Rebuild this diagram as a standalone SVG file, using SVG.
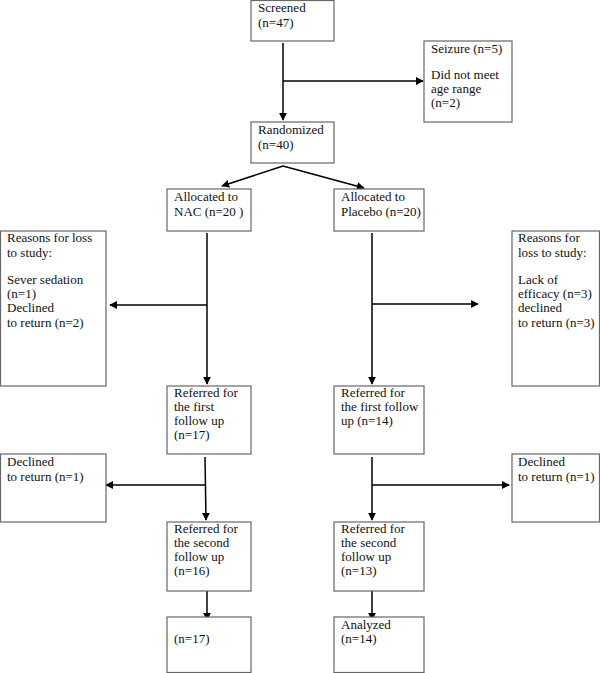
<svg xmlns="http://www.w3.org/2000/svg" width="600" height="673" viewBox="0 0 600 673">
<defs>
<style>
.box{fill:#fff;stroke:#666;stroke-width:1.2}
text{font-family:'Liberation Serif','Times New Roman','DejaVu Serif',serif;font-size:13px;fill:#111}
.c{fill:none;stroke:#000;stroke-width:1.5}
</style>
<marker id="ah" viewBox="0 0 10 10" refX="9" refY="5" markerWidth="8" markerHeight="8" markerUnits="userSpaceOnUse" orient="auto">
<path d="M0,0 L10,5 L0,10 Z" fill="#000"/>
</marker>
</defs>
<rect width="600" height="673" fill="#fff"/>
<g id="connectors">
<path class="c" d="M283,43 L283,120" marker-end="url(#ah)"/>
<path class="c" d="M283,81 L423,81" marker-end="url(#ah)"/>
<path class="c" d="M283,166 L222,186" marker-end="url(#ah)"/>
<path class="c" d="M283,166 L364,188" marker-end="url(#ah)"/>
<path class="c" d="M207,233 L207,384" marker-end="url(#ah)"/>
<path class="c" d="M207,305 L110,305" marker-end="url(#ah)"/>
<path class="c" d="M372,233 L372,384" marker-end="url(#ah)"/>
<path class="c" d="M372,304 L478,304" marker-end="url(#ah)"/>
<path class="c" d="M205,457 L206,520" marker-end="url(#ah)"/>
<path class="c" d="M206,485 L106,485" marker-end="url(#ah)"/>
<path class="c" d="M372,457 L372,520" marker-end="url(#ah)"/>
<path class="c" d="M372,485 L509,485" marker-end="url(#ah)"/>
<path class="c" d="M207,591 L207,620" marker-end="url(#ah)"/>
<path class="c" d="M372,591 L372,620" marker-end="url(#ah)"/>
</g>
<g font-family="Liberation Serif, Times New Roman, DejaVu Serif, serif" font-size="13">
<g id="screened">
<rect class="box" x="251" y="0.5" width="83" height="40.5"/>
<text x="258" y="12">Screened</text>
<text x="258" y="27">(n=47)</text>
</g>
<g id="excluded">
<rect class="box" x="424" y="41" width="88" height="81"/>
<text x="431" y="53">Seizure (n=5)</text>
<text x="431" y="79">Did not meet</text>
<text x="431" y="93">age range</text>
<text x="431" y="107">(n=2)</text>
</g>
<g id="randomized">
<rect class="box" x="251" y="122" width="83" height="41"/>
<text x="258" y="134">Randomized</text>
<text x="258" y="149">(n=40)</text>
</g>
<g id="nac">
<rect class="box" x="167" y="189" width="84" height="42"/>
<text x="174" y="201">Allocated to</text>
<text x="174" y="216">NAC (n=20 )</text>
</g>
<g id="placebo">
<rect class="box" x="334" y="189" width="90" height="42"/>
<text x="341" y="201">Allocated to</text>
<text x="341" y="216">Placebo (n=20)</text>
</g>
<g id="loss-nac">
<rect class="box" x="0.5" y="231" width="105.5" height="155"/>
<text x="7" y="242">Reasons for loss</text>
<text x="7" y="257">to study:</text>
<text x="7" y="284">Sever sedation</text>
<text x="7" y="298">(n=1)</text>
<text x="7" y="312">Declined</text>
<text x="7" y="327">to return (n=2)</text>
</g>
<g id="loss-placebo">
<rect class="box" x="512" y="231" width="87.5" height="155"/>
<text x="518" y="242">Reasons for</text>
<text x="518" y="257">loss to study:</text>
<text x="518" y="284">Lack of</text>
<text x="518" y="298">efficacy (n=3)</text>
<text x="518" y="312">declined</text>
<text x="518" y="327">to return (n=3)</text>
</g>
<g id="first-nac">
<rect class="box" x="167" y="386" width="84" height="68"/>
<text x="174" y="397">Referred for</text>
<text x="174" y="411">the first</text>
<text x="174" y="425">follow up</text>
<text x="174" y="439">(n=17)</text>
</g>
<g id="first-placebo">
<rect class="box" x="334" y="386" width="90" height="68"/>
<text x="341" y="397">Referred for</text>
<text x="341" y="411">the first follow</text>
<text x="341" y="425">up (n=14)</text>
</g>
<g id="declined-nac">
<rect class="box" x="0.5" y="454" width="105.5" height="68"/>
<text x="7" y="466">Declined</text>
<text x="7" y="481">to return (n=1)</text>
</g>
<g id="declined-placebo">
<rect class="box" x="512" y="454" width="87.5" height="68"/>
<text x="518" y="466">Declined</text>
<text x="518" y="481">to return (n=1)</text>
</g>
<g id="second-nac">
<rect class="box" x="167" y="522" width="84" height="69"/>
<text x="174" y="533">Referred for</text>
<text x="174" y="547">the second</text>
<text x="174" y="561">follow up</text>
<text x="174" y="575">(n=16)</text>
</g>
<g id="second-placebo">
<rect class="box" x="334" y="522" width="90" height="69"/>
<text x="341" y="533">Referred for</text>
<text x="341" y="547">the second</text>
<text x="341" y="561">follow up</text>
<text x="341" y="575">(n=13)</text>
</g>
<g id="final-nac">
<rect class="box" x="167" y="617" width="84" height="55.5"/>
<text x="174" y="643">(n=17)</text>
</g>
<g id="analyzed">
<rect class="box" x="334" y="617" width="90" height="55.5"/>
<text x="341" y="629">Analyzed</text>
<text x="341" y="643">(n=14)</text>
</g>
</g>
</svg>
